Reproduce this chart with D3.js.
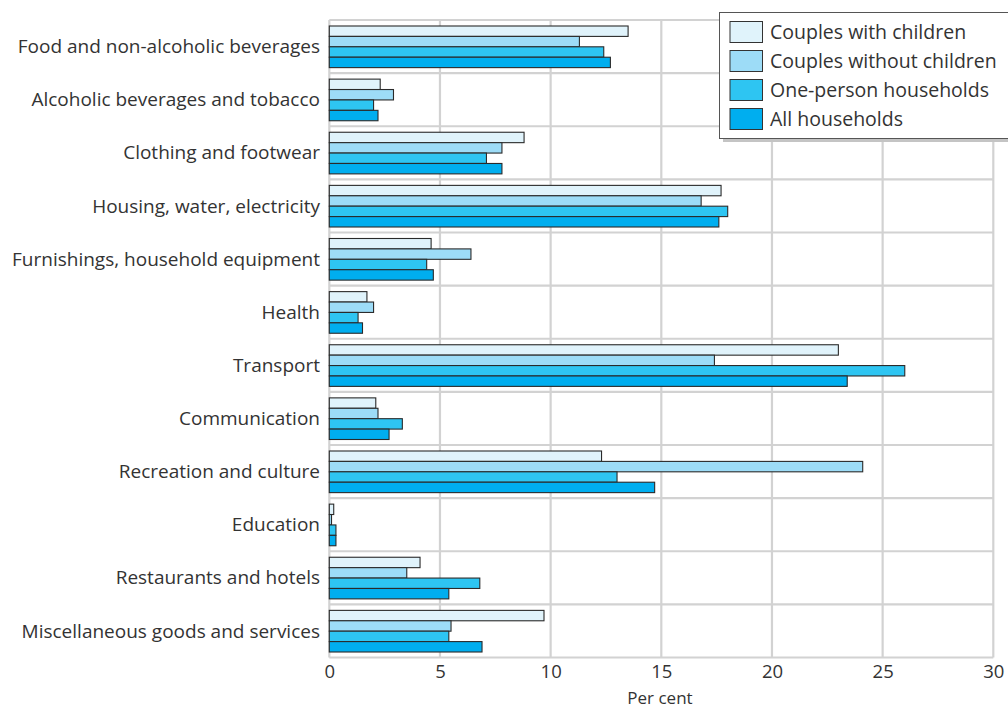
<!DOCTYPE html>
<html><head><meta charset="utf-8">
<script src="https://cdn.jsdelivr.net/npm/d3@7"></script>
<style>body{margin:0;background:#fff;}svg{display:block;font-family:"Open Sans",sans-serif;}</style>
</head><body>
<svg id="c" width="1008" height="710"></svg>
<script>
const categories = ["Food and non-alcoholic beverages","Alcoholic beverages and tobacco","Clothing and footwear","Housing, water, electricity","Furnishings, household equipment","Health","Transport","Communication","Recreation and culture","Education","Restaurants and hotels","Miscellaneous goods and services"];
const seriesNames = ["Couples with children","Couples without children","One-person households","All households"];
const couplesWithChildren = [13.5,2.3,8.8,17.7,4.6,1.7,23.0,2.1,12.3,0.2,4.1,9.7];
const couplesWithoutChildren = [11.3,2.9,7.8,16.8,6.4,2.0,17.4,2.2,24.1,0.1,3.5,5.5];
const onePerson = [12.4,2.0,7.1,18.0,4.4,1.3,26.0,3.3,13.0,0.3,6.8,5.4];
const allHouseholds = [12.7,2.2,7.8,17.6,4.7,1.5,23.4,2.7,14.7,0.3,5.4,6.9];
const xTicks = [0,5,10,15,20,25,30];
const xLabel = "Per cent";
const colors = ["#e0f3fb","#9ddcf7","#2ec5f2","#00aeef"];
const seriesValues = [couplesWithChildren,couplesWithoutChildren,onePerson,allHouseholds];

const svg = d3.select("#c");
const L=329.3, R=993.3, T=20, B=657.5;
const x = d3.scaleLinear().domain([0,30]).range([L,R]);
const y = d3.scaleBand().domain(categories).range([T,B]).paddingInner(0).paddingOuter(0);
const y1 = d3.scaleBand().domain(seriesNames).range([6, y.bandwidth()-5.5]).padding(0);

// grid
const grid = svg.append("g");
grid.selectAll("line.v").data(xTicks).join("line")
  .attr("x1",d=>x(d)).attr("x2",d=>x(d)).attr("y1",T).attr("y2",B)
  .attr("stroke","#d2d2d2").attr("stroke-width",2.2);
const hb = categories.map(c=>y(c)).concat([B]);
grid.selectAll("line.h").data(hb).join("line")
  .attr("x1",L).attr("x2",R).attr("y1",d=>d).attr("y2",d=>d)
  .attr("stroke","#d2d2d2").attr("stroke-width",2.2);

// bars
const rows = categories.map((c,i)=>({c, vals: seriesNames.map((s,j)=>({s, v: seriesValues[j][i], j}))}));
const g = svg.append("g");
g.selectAll("g").data(rows).join("g")
  .attr("transform",d=>`translate(0,${y(d.c)})`)
  .selectAll("rect").data(d=>d.vals).join("rect")
  .attr("x",x(0)).attr("y",d=>y1(d.s)).attr("width",d=>x(d.v)-x(0)).attr("height",y1.bandwidth())
  .attr("fill",d=>colors[d.j]).attr("stroke","#2a2a2a").attr("stroke-width",1.1);

// category labels
svg.append("g").selectAll("text").data(categories).join("text")
  .attr("x",320).attr("y",d=>y(d)+y.bandwidth()/2).attr("dy","0.35em")
  .attr("text-anchor","end").attr("font-size",19).attr("fill","#333").text(d=>d);

// x axis
const xa = svg.append("g").attr("transform",`translate(0,${B})`)
  .call(d3.axisBottom(x).tickValues(xTicks).tickSize(0).tickPadding(7));
xa.select(".domain").remove();
xa.selectAll("text").attr("font-size",18.5).attr("fill","#333").attr("font-family","Open Sans, sans-serif");
svg.append("text").attr("x",660).attr("y",698.5).attr("dy","0.35em").attr("text-anchor","middle")
  .attr("font-size",17).attr("fill","#333").text(xLabel);

// legend
const lg = svg.append("g");
lg.append("rect").attr("x",723).attr("y",16).attr("width",320).attr("height",126).attr("fill","#c4c4c4");
lg.append("rect").attr("x",719.5).attr("y",12.5).attr("width",320).attr("height",126).attr("fill","#fff").attr("stroke","#555").attr("stroke-width",1);
const li = lg.selectAll("g.it").data(seriesNames).join("g").attr("transform",(d,i)=>`translate(730,${21.5+i*29})`);
li.append("rect").attr("width",32.5).attr("height",21).attr("fill",(d,i)=>colors[i]).attr("stroke","#333").attr("stroke-width",1);
li.append("text").attr("x",40).attr("y",11).attr("dy","0.35em").attr("font-size",19.5).attr("fill","#333").text(d=>d);
</script>
</body></html>
